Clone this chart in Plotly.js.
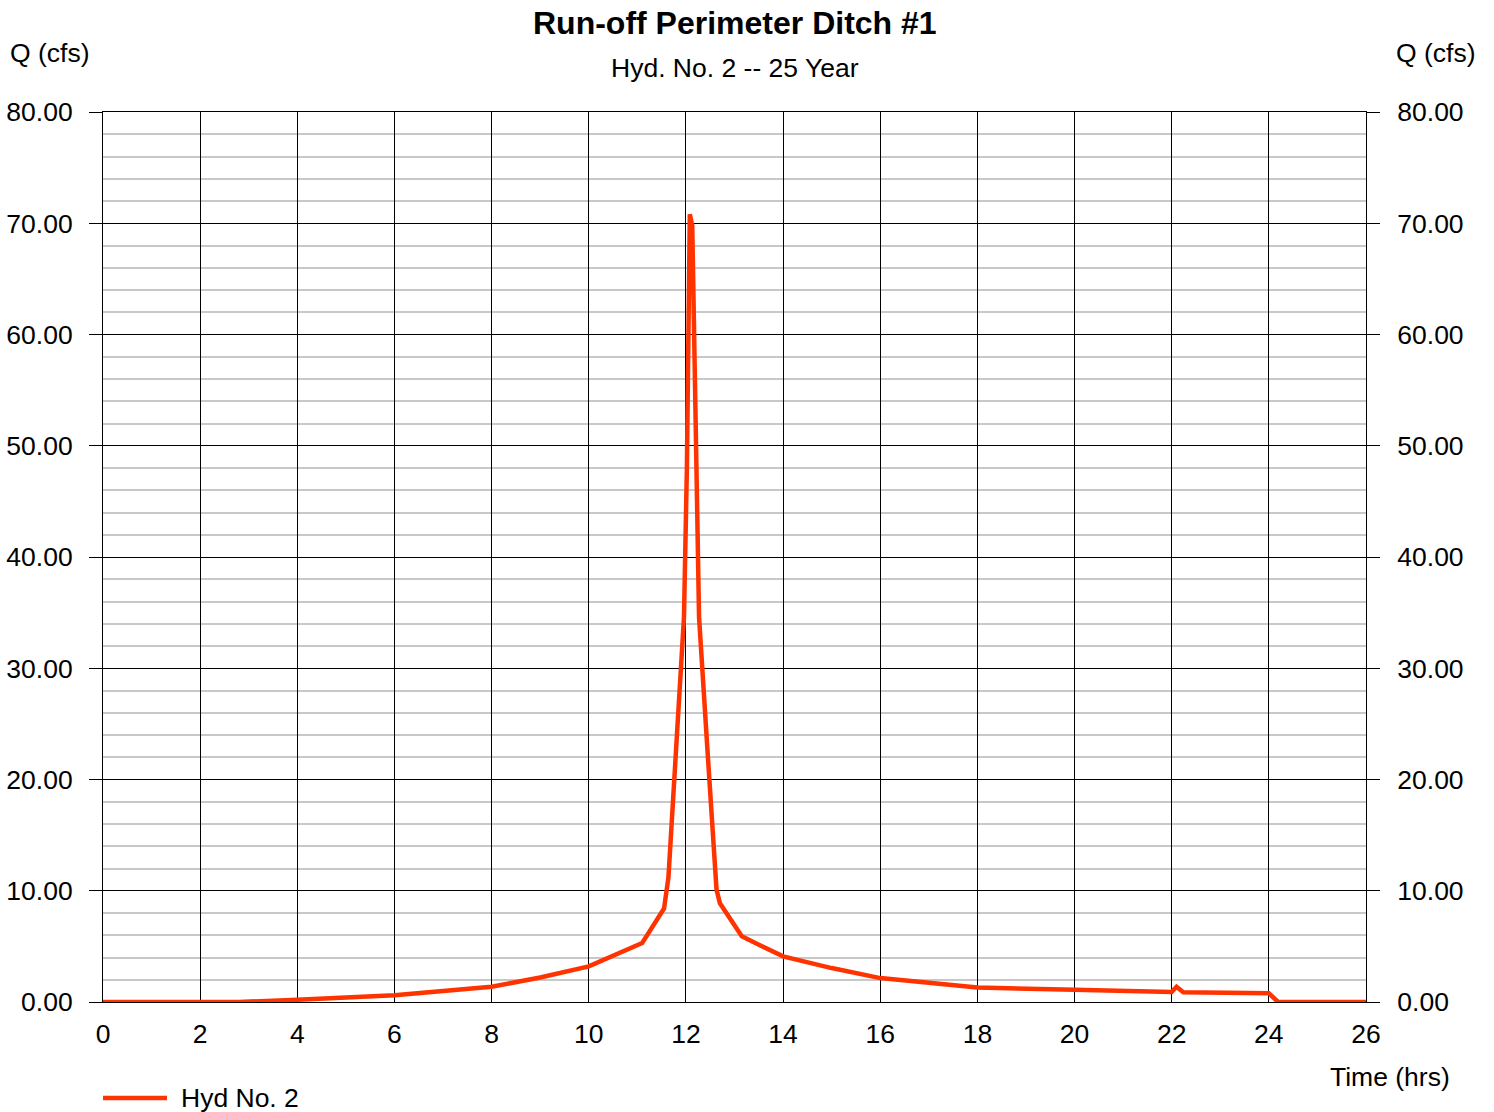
<!DOCTYPE html>
<html>
<head>
<meta charset="utf-8">
<script src="https://cdn.plot.ly/plotly-3.0.1.min.js"></script>
<style>html,body{margin:0;padding:0;background:#fff;}#chart{width:1494px;height:1112px;}</style>
</head>
<body>
<div id="chart"></div>
<script>
var timeHrs = [0, 2.8, 4, 6, 8, 9, 10, 11.1, 11.55, 11.64, 11.8, 11.96, 12.02, 12.05, 12.08, 12.13, 12.17, 12.27, 12.45, 12.56, 12.63, 12.70, 13.15, 14.0, 15, 16, 18, 20, 22, 22.1, 22.24, 24, 24.19, 26];
var flowCfs = [0, 0, 0.2, 0.6, 1.37, 2.2, 3.2, 5.3, 8.4, 11.2, 22.9, 34.6, 48, 59.5, 70.8, 69.8, 60, 34.6, 22.2, 14.6, 10.1, 8.87, 5.9, 4.1, 3.05, 2.15, 1.3, 1.1, 0.9, 1.37, 0.87, 0.78, 0, 0];
var seriesName = "Hyd No. 2";
var chartTitle = "Run-off Perimeter Ditch #1";
var chartSubtitle = "Hyd. No. 2 -- 25 Year";
var yLabel = "Q (cfs)";
var xLabel = "Time (hrs)";

var FONT = "Liberation Sans, Arial, sans-serif";
var FS = 26.5;
var lineColor = "#ff3300";

var traces = [
  {x: timeHrs, y: flowCfs, type: "scatter", mode: "lines", name: seriesName,
   line: {color: lineColor, width: 4.5}, showlegend: false, hoverinfo: "x+y"},
  {x: [0], y: [0], type: "scatter", mode: "none", yaxis: "y2", showlegend: false, hoverinfo: "skip"}
];

var yCommon = {
  range: [0, 80], dtick: 10, tick0: 0, tickformat: ".2f",
  showgrid: true, gridcolor: "#000000", gridwidth: 1,
  minor: {dtick: 2, showgrid: true, gridcolor: "#c8c8c8", gridwidth: 2, ticks: ""},
  ticks: "outside", ticklen: 13, tickcolor: "#000", tickwidth: 1,
  tickfont: {family: FONT, size: FS, color: "#000"},
  zeroline: false, showline: true, linecolor: "#000", linewidth: 1,
  fixedrange: true
};

var layout = {
  width: 1494, height: 1112,
  margin: {l: 103, r: 128, t: 112, b: 110, pad: 0},
  paper_bgcolor: "#fff", plot_bgcolor: "#fff",
  font: {family: FONT, color: "#000"},
  showlegend: false,
  xaxis: {
    range: [0, 26], dtick: 2, tick0: 0,
    showgrid: true, gridcolor: "#000", gridwidth: 1,
    ticks: "", ticklabelstandoff: 8,
    tickfont: {family: FONT, size: FS, color: "#000"},
    zeroline: false, showline: true, mirror: true, linecolor: "#000", linewidth: 1,
    fixedrange: true
  },
  yaxis: Object.assign({}, yCommon, {side: "left", ticklabelstandoff: 11}),
  yaxis2: Object.assign({}, yCommon, {side: "right", overlaying: "y", ticklabelstandoff: 12, showgrid: false, minor: {showgrid: false}}),
  annotations: [
    {text: "<b>" + chartTitle + "</b>", xref: "paper", yref: "paper", x: 0.5, y: 1, yshift: 89, xanchor: "center", yanchor: "middle", showarrow: false, font: {family: FONT, size: 32, color: "#000"}},
    {text: chartSubtitle, xref: "paper", yref: "paper", x: 0.5, y: 1, yshift: 44, xanchor: "center", yanchor: "middle", showarrow: false, font: {family: FONT, size: FS, color: "#000"}},
    {text: yLabel, xref: "paper", yref: "paper", x: 0, xshift: -95, y: 1, yshift: 59, xanchor: "left", yanchor: "middle", showarrow: false, font: {family: FONT, size: FS, color: "#000"}},
    {text: yLabel, xref: "paper", yref: "paper", x: 1, xshift: 112, y: 1, yshift: 59, xanchor: "right", yanchor: "middle", showarrow: false, font: {family: FONT, size: FS, color: "#000"}},
    {text: xLabel, xref: "paper", yref: "paper", x: 1, xshift: 86, y: 0, yshift: -75, xanchor: "right", yanchor: "middle", showarrow: false, font: {family: FONT, size: FS, color: "#000"}},
    {text: seriesName, xref: "paper", yref: "paper", x: 0, xshift: 76, y: 0, yshift: -96, xanchor: "left", yanchor: "middle", showarrow: false, font: {family: FONT, size: FS, color: "#000"}}
  ],
  shapes: [
    {type: "line", xref: "paper", yref: "paper", x0: 0, x1: 64, y0: -96, y1: -96, xsizemode: "pixel", ysizemode: "pixel", xanchor: 0, yanchor: 0,
     line: {color: lineColor, width: 4.5}}
  ]
};

Plotly.newPlot("chart", traces, layout, {staticPlot: true, displayModeBar: false});
</script>
</body>
</html>
